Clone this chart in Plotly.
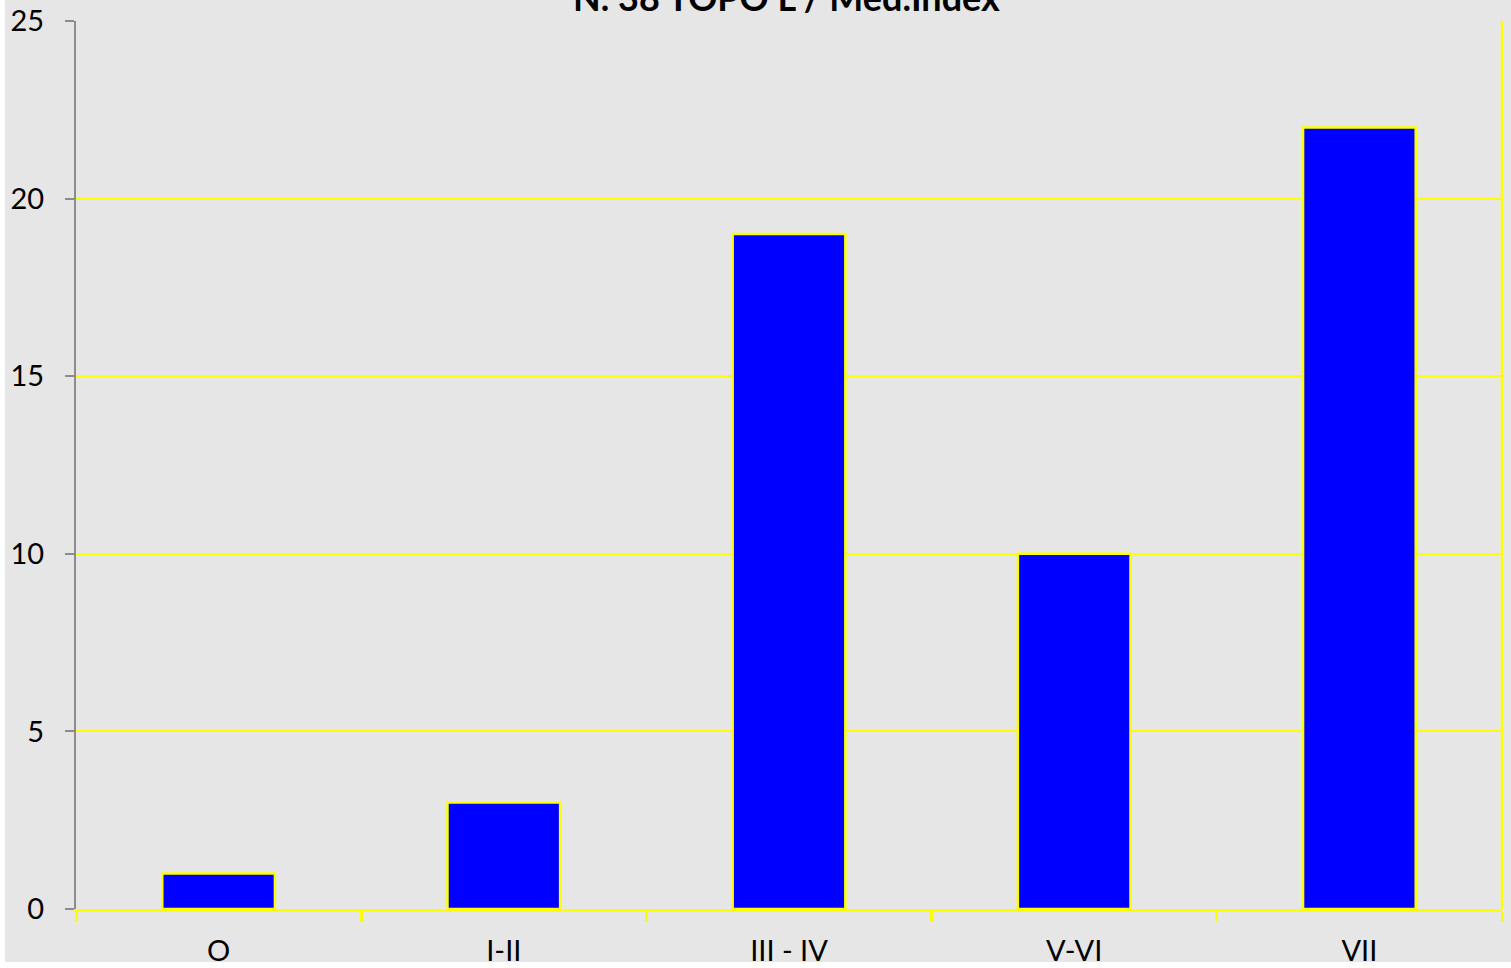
import plotly.graph_objects as go

categories = ["O", "I-II", "III - IV", "V-VI", "VII"]
values = [1, 3, 19, 10, 22]
title_text = "N. 38 TOPO L / Med.Index"

W, H = 1511, 968
L, R, T, B = 76, 9, 21, 59
pw, ph = W - L - R, H - T - B

fig = go.Figure(
    go.Bar(
        x=categories,
        y=values,
        marker=dict(color="#0000ff", line=dict(color="#ffff00", width=2.5)),
        width=0.395,
    )
)

grey_bg = "#e6e6e6"
fig.update_layout(
    width=W,
    height=H,
    margin=dict(l=L, r=R, t=T, b=B, autoexpand=False),
    paper_bgcolor="white",
    plot_bgcolor=grey_bg,
    showlegend=False,
    font=dict(family="Lato, Carlito, sans-serif", size=29, color="#000000"),
    shapes=[
        # grey backdrop over the whole chart, leaving a thin white edge left and bottom
        dict(type="rect", xref="paper", yref="paper", layer="below",
             x0=(5 - L) / pw, x1=(W - L) / pw + 0.01,
             y0=-(962 - (H - B)) / ph, y1=1 + T / ph + 0.01,
             fillcolor=grey_bg, line=dict(width=0)),
        # right edge of the plot area
        dict(type="line", xref="paper", yref="paper",
             x0=1, x1=1, y0=0, y1=1, line=dict(color="#ffff00", width=2.5)),
    ],
    annotations=[
        dict(text="<b>" + title_text + "</b>", xref="paper", yref="paper",
             x=(786 - L) / pw, y=1 + (T + 3) / ph, xanchor="center", yanchor="middle",
             showarrow=False,
             font=dict(family="Lato, Carlito, sans-serif", size=36, color="#000000")),
    ],
)

fig.update_xaxes(
    range=[-0.5, 4.5], automargin=False,
    showline=True, linecolor="#ffff00", linewidth=3,
    ticks="outside", tickson="boundaries", ticklen=9, tickwidth=3, tickcolor="#ffff00",
    ticklabelstandoff=14,
    showgrid=False, zeroline=False,
    tickfont=dict(size=29),
)
fig.update_yaxes(
    range=[0, 25], tickvals=[0, 5, 10, 15, 20, 25], automargin=False,
    showline=True, linecolor="#8c8c8c", linewidth=2,
    ticks="outside", ticklen=9, tickwidth=2, tickcolor="#8c8c8c",
    ticklabelstandoff=15,
    showgrid=True, gridcolor="#ffff00", gridwidth=2,
    zeroline=False,
    tickfont=dict(size=29),
)

fig.write_html("out.html")
